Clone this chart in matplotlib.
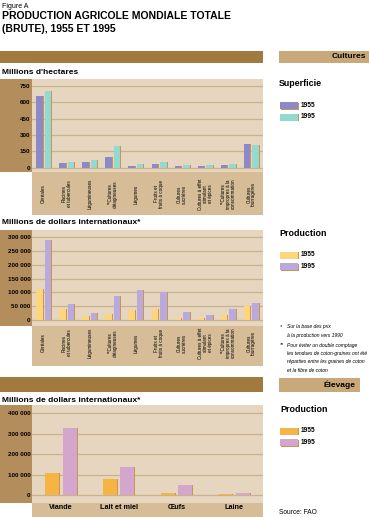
import matplotlib
matplotlib.use('Agg')
import matplotlib.pyplot as plt
from matplotlib.patches import Rectangle
from matplotlib.transforms import blended_transform_factory

plt.rcParams['font.family'] = ['Liberation Sans', 'DejaVu Sans']

# data
cultures = ['Céréales', 'Racines\net tubercules', 'Légumineuses', '**Cultures\noléagineuses',
            'Légumes', 'Fruits et\nfruits à coque', 'Cultures\nsucrières',
            'Cultures à effet\nstimulant\net épices', '**Cultures\nimpropres à la\nconsommation',
            'Cultures\nfourragères']
surface_1955 = [660, 45, 55, 100, 18, 28, 15, 15, 27, 215]
surface_1995 = [705, 52, 68, 195, 35, 52, 27, 25, 33, 205]
surface_ticks = [0, 150, 300, 450, 600, 750]

prod_1955 = [113000, 40000, 15000, 23000, 36000, 40000, 9000, 8000, 20000, 51000]
prod_1995 = [288000, 57000, 25000, 86000, 107000, 102000, 28000, 19000, 42000, 63000]
prod_ticks = [0, 50000, 100000, 150000, 200000, 250000, 300000]

elevage = ['Viande', 'Lait et miel', 'Œufs', 'Laine']
elev_1955 = [108000, 78000, 13000, 6000]
elev_1995 = [328000, 140000, 48000, 9000]
elev_ticks = [0, 100000, 200000, 300000, 400000]

W, H = 369, 517
BROWN = '#a27a3f'
TAN_BOX = '#c9a97a'
Y_BAND = '#b38d5c'
CAT_BAND = '#d6bd98'
PLOT_BG = '#e6d6c0'
GRID = '#cbb28a'
SHADOW = '#c8964e'

fig = plt.figure(figsize=(W / 100, H / 100), dpi=100)
fig.patch.set_facecolor('white')


def fx(x):
    return x / W


def fy(y):
    return 1 - y / H


def box(x0, y0, x1, y1, color, z=-1):
    fig.patches.append(Rectangle((fx(x0), fy(y1)), (x1 - x0) / W, (y1 - y0) / H,
                                 transform=fig.transFigure, facecolor=color,
                                 edgecolor='none', zorder=z))


def txt(x, y, s, **kw):
    fig.text(fx(x), fy(y), s, **kw)


def fmt(v):
    return f'{v:,}'.replace(',', ' ')


def chart(top, bottom, band_bottom, ylim, ticks, cats, v1, v2, c1, c2,
          width, off, label_y, rotated=True):
    ax = fig.add_axes([fx(32), fy(bottom), (263 - 32) / W, (bottom - top) / H])
    ax.set_facecolor(PLOT_BG)
    n = len(cats)
    ax.set_xlim(-0.5, n - 0.5)
    ax.set_ylim(*ylim)
    for s in ax.spines.values():
        s.set_visible(False)
    ax.set_xticks([])
    ax.set_yticks(ticks)
    ax.set_yticklabels([fmt(t) for t in ticks], fontsize=4.5, fontweight='bold')
    ax.tick_params(axis='y', length=0, pad=1.2)
    ax.yaxis.grid(True, color=GRID, lw=0.9)
    ax.set_axisbelow(True)
    xs = list(range(n))
    sh = 1.0 * n / (263 - 32)
    ax.bar([x - off + sh for x in xs], v1, width, color=SHADOW, zorder=2)
    ax.bar([x + off + sh for x in xs], v2, width, color=SHADOW, zorder=2)
    ax.bar([x - off for x in xs], v1, width, color=c1, zorder=3)
    ax.bar([x + off for x in xs], v2, width, color=c2, zorder=3)
    box(0, top, 32, bottom, Y_BAND)
    box(32, bottom, 263, band_bottom, CAT_BAND)
    tr = blended_transform_factory(ax.transData, fig.transFigure)
    for x, c in zip(xs, cats):
        if rotated:
            ax.text(x, fy(label_y), c, transform=tr, rotation=90, ha='center', va='center',
                    multialignment='center', fontsize=3.3, linespacing=1.0, clip_on=False)
        else:
            ax.text(x, fy(label_y), c, transform=tr, ha='center', va='center',
                    fontsize=5.2, fontweight='bold', clip_on=False)
    return ax


def legend(y1, y2, c1, c2):
    for y, c, lab in [(y1, c1, '1955'), (y2, c2, '1995')]:
        box(281, y - 3, 299, y + 4, SHADOW, z=1)
        box(279.5, y - 3.5, 297.5, y + 3.5, c, z=2)
        txt(301, y, lab, fontsize=4.8, fontweight='bold', va='center')


# header
txt(2, 7, 'Figure A', fontsize=5.0, va='center')
txt(2, 16, 'PRODUCTION AGRICOLE MONDIALE TOTALE', fontsize=7.5, fontweight='bold', va='center')
txt(2, 29, '(BRUTE), 1955 ET 1995', fontsize=7.5, fontweight='bold', va='center')

# Cultures section
box(0, 51, 263, 63, BROWN)
box(279, 51, 369, 63, TAN_BOX)
txt(366, 57, 'Cultures', fontsize=6.0, fontweight='bold', ha='right', va='center')

txt(2, 73, "Millions d'hectares", fontsize=6.0, fontweight='bold', va='center')
chart(79, 172, 215, (-41, 814), surface_ticks, cultures, surface_1955, surface_1995,
      '#8d89c9', '#92d9cf', 0.28, 0.184, 194)

txt(2, 223, 'Millions de dollars internationaux*', fontsize=6.0, fontweight='bold', va='center')
chart(230, 326, 366, (-20500, 324100), prod_ticks, cultures, prod_1955, prod_1995,
      '#fdd57c', '#b9a9dc', 0.28, 0.184, 343)

txt(279, 83, 'Superficie', fontsize=6.4, fontweight='bold', va='center')
legend(105.7, 117, '#8d89c9', '#92d9cf')
txt(279, 234, 'Production', fontsize=6.4, fontweight='bold', va='center')
legend(255, 266.7, '#fdd57c', '#b9a9dc')

notes = [(326.7, '*', 'Sur la base des prix'),
         (335.7, '', 'à la production vers 1990'),
         (345, '**', 'Pour éviter un double comptage'),
         (354, '', 'les tendues de coton-graines ont été'),
         (361.7, '', 'réparties entre les graines de coton'),
         (370, '', 'et la fibre de coton')]
for y, mark, line in notes:
    if mark:
        txt(280, y, mark, fontsize=3.6, style='italic', va='center')
    txt(287, y, line, fontsize=3.6, style='italic', va='center')

# Elevage section
box(0, 377, 263, 392, BROWN)
box(279, 378, 360, 392, TAN_BOX)
txt(356, 385, 'Élevage', fontsize=6.0, fontweight='bold', ha='right', va='center')

txt(2, 400, 'Millions de dollars internationaux*', fontsize=6.0, fontweight='bold', va='center')
chart(405, 503, 517, (-37600, 440500), elev_ticks, elevage, elev_1955, elev_1995,
      '#f5b443', '#d4a5cd', 0.242, 0.15, 507.5, rotated=False)

txt(280, 409, 'Production', fontsize=6.4, fontweight='bold', va='center')
legend(431, 442.7, '#f5b443', '#d4a5cd')
txt(279, 512, 'Source: FAO', fontsize=4.8, va='center')

fig.savefig('out.png', dpi=100)
